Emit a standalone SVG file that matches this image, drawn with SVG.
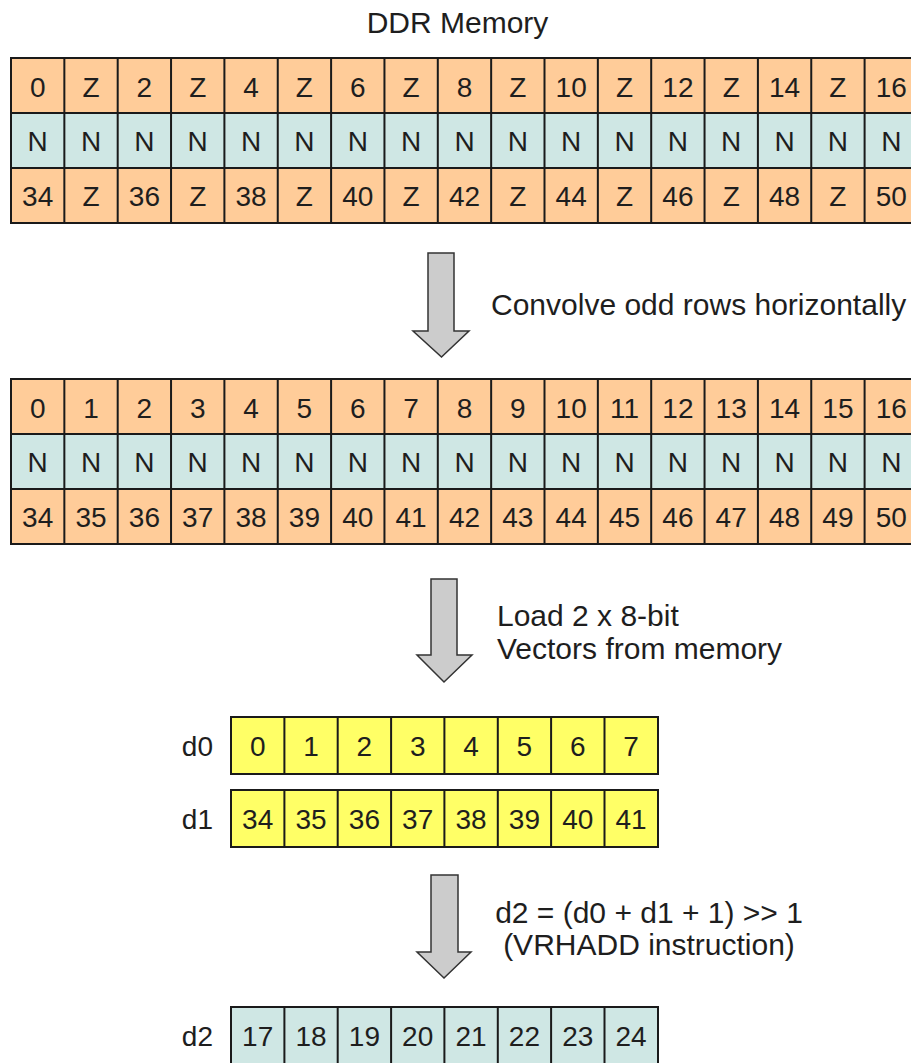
<svg xmlns="http://www.w3.org/2000/svg" width="911" height="1063" viewBox="0 0 911 1063">
  <style>
    text { font-family: "Liberation Sans", Arial, sans-serif; fill: #1e1e1e; }
    .cell { font-size: 28px; text-anchor: middle; }
    .cap { font-size: 30px; }
    .lbl { font-size: 28px; text-anchor: end; }
    .or { fill: #ffcc99; stroke: #1a1a1a; stroke-width: 2; }
    .tl { fill: #cfe7e4; stroke: #1a1a1a; stroke-width: 2; }
    .ye { fill: #ffff66; stroke: #1a1a1a; stroke-width: 2; }
    .div { fill: none; stroke: #1a1a1a; stroke-width: 2; }
    .arrow { fill: #cccccc; stroke: #333333; stroke-width: 1.5; stroke-linejoin: miter; }
  </style>

  <text class="cap" x="457.5" y="33" text-anchor="middle">DDR Memory</text>

  <!-- memory layout before interpolation -->
  <g id="ddr-grid">
    <rect class="or" x="11" y="58" width="907" height="55"/>
    <rect class="tl" x="11" y="113" width="907" height="55"/>
    <rect class="or" x="11" y="168" width="907" height="55"/>
    <path class="div" d="M64.35 58V223M117.7 58V223M171.05 58V223M224.4 58V223M277.75 58V223M331.1 58V223M384.45 58V223M437.8 58V223M491.15 58V223M544.5 58V223M597.85 58V223M651.2 58V223M704.55 58V223M757.9 58V223M811.25 58V223M864.6 58V223"/>
    <g class="cell">
      <text x="37.7" y="97">0</text><text x="91" y="97">Z</text><text x="144.4" y="97">2</text><text x="197.7" y="97">Z</text><text x="251.1" y="97">4</text><text x="304.4" y="97">Z</text><text x="357.8" y="97">6</text><text x="411.1" y="97">Z</text><text x="464.5" y="97">8</text><text x="517.8" y="97">Z</text><text x="571.2" y="97">10</text><text x="624.5" y="97">Z</text><text x="677.9" y="97">12</text><text x="731.2" y="97">Z</text><text x="784.6" y="97">14</text><text x="837.9" y="97">Z</text><text x="891.3" y="97">16</text>
      <text x="37.7" y="151">N</text><text x="91" y="151">N</text><text x="144.4" y="151">N</text><text x="197.7" y="151">N</text><text x="251.1" y="151">N</text><text x="304.4" y="151">N</text><text x="357.8" y="151">N</text><text x="411.1" y="151">N</text><text x="464.5" y="151">N</text><text x="517.8" y="151">N</text><text x="571.2" y="151">N</text><text x="624.5" y="151">N</text><text x="677.9" y="151">N</text><text x="731.2" y="151">N</text><text x="784.6" y="151">N</text><text x="837.9" y="151">N</text><text x="891.3" y="151">N</text>
      <text x="37.7" y="206">34</text><text x="91" y="206">Z</text><text x="144.4" y="206">36</text><text x="197.7" y="206">Z</text><text x="251.1" y="206">38</text><text x="304.4" y="206">Z</text><text x="357.8" y="206">40</text><text x="411.1" y="206">Z</text><text x="464.5" y="206">42</text><text x="517.8" y="206">Z</text><text x="571.2" y="206">44</text><text x="624.5" y="206">Z</text><text x="677.9" y="206">46</text><text x="731.2" y="206">Z</text><text x="784.6" y="206">48</text><text x="837.9" y="206">Z</text><text x="891.3" y="206">50</text>
    </g>
  </g>

  <!-- memory layout after horizontal convolution -->
  <g id="conv-grid">
    <rect class="or" x="11" y="379" width="907" height="55"/>
    <rect class="tl" x="11" y="434" width="907" height="55"/>
    <rect class="or" x="11" y="489" width="907" height="55"/>
    <path class="div" d="M64.35 379V544M117.7 379V544M171.05 379V544M224.4 379V544M277.75 379V544M331.1 379V544M384.45 379V544M437.8 379V544M491.15 379V544M544.5 379V544M597.85 379V544M651.2 379V544M704.55 379V544M757.9 379V544M811.25 379V544M864.6 379V544"/>
    <g class="cell">
      <text x="37.7" y="417.5">0</text><text x="91" y="417.5">1</text><text x="144.4" y="417.5">2</text><text x="197.7" y="417.5">3</text><text x="251.1" y="417.5">4</text><text x="304.4" y="417.5">5</text><text x="357.8" y="417.5">6</text><text x="411.1" y="417.5">7</text><text x="464.5" y="417.5">8</text><text x="517.8" y="417.5">9</text><text x="571.2" y="417.5">10</text><text x="624.5" y="417.5">11</text><text x="677.9" y="417.5">12</text><text x="731.2" y="417.5">13</text><text x="784.6" y="417.5">14</text><text x="837.9" y="417.5">15</text><text x="891.3" y="417.5">16</text>
      <text x="37.7" y="472">N</text><text x="91" y="472">N</text><text x="144.4" y="472">N</text><text x="197.7" y="472">N</text><text x="251.1" y="472">N</text><text x="304.4" y="472">N</text><text x="357.8" y="472">N</text><text x="411.1" y="472">N</text><text x="464.5" y="472">N</text><text x="517.8" y="472">N</text><text x="571.2" y="472">N</text><text x="624.5" y="472">N</text><text x="677.9" y="472">N</text><text x="731.2" y="472">N</text><text x="784.6" y="472">N</text><text x="837.9" y="472">N</text><text x="891.3" y="472">N</text>
      <text x="37.7" y="527">34</text><text x="91" y="527">35</text><text x="144.4" y="527">36</text><text x="197.7" y="527">37</text><text x="251.1" y="527">38</text><text x="304.4" y="527">39</text><text x="357.8" y="527">40</text><text x="411.1" y="527">41</text><text x="464.5" y="527">42</text><text x="517.8" y="527">43</text><text x="571.2" y="527">44</text><text x="624.5" y="527">45</text><text x="677.9" y="527">46</text><text x="731.2" y="527">47</text><text x="784.6" y="527">48</text><text x="837.9" y="527">49</text><text x="891.3" y="527">50</text>
    </g>
  </g>

  <!-- NEON registers -->
  <g id="reg-d0">
    <text class="lbl" x="213" y="756">d0</text>
    <rect class="ye" x="231" y="717" width="427" height="57"/>
    <path class="div" d="M284.4 717V774M337.7 717V774M391.1 717V774M444.4 717V774M497.8 717V774M551.1 717V774M604.5 717V774"/>
    <g class="cell">
      <text x="257.7" y="756">0</text><text x="311" y="756">1</text><text x="364.4" y="756">2</text><text x="417.7" y="756">3</text><text x="471.1" y="756">4</text><text x="524.4" y="756">5</text><text x="577.8" y="756">6</text><text x="631.1" y="756">7</text>
    </g>
  </g>
  <g id="reg-d1">
    <text class="lbl" x="213" y="828.5">d1</text>
    <rect class="ye" x="231" y="790" width="427" height="57"/>
    <path class="div" d="M284.4 790V847M337.7 790V847M391.1 790V847M444.4 790V847M497.8 790V847M551.1 790V847M604.5 790V847"/>
    <g class="cell">
      <text x="257.7" y="828.5">34</text><text x="311" y="828.5">35</text><text x="364.4" y="828.5">36</text><text x="417.7" y="828.5">37</text><text x="471.1" y="828.5">38</text><text x="524.4" y="828.5">39</text><text x="577.8" y="828.5">40</text><text x="631.1" y="828.5">41</text>
    </g>
  </g>
  <g id="reg-d2">
    <text class="lbl" x="213" y="1046">d2</text>
    <rect class="tl" x="231" y="1007" width="427" height="57"/>
    <path class="div" d="M284.4 1007V1064M337.7 1007V1064M391.1 1007V1064M444.4 1007V1064M497.8 1007V1064M551.1 1007V1064M604.5 1007V1064"/>
    <g class="cell">
      <text x="257.7" y="1046">17</text><text x="311" y="1046">18</text><text x="364.4" y="1046">19</text><text x="417.7" y="1046">20</text><text x="471.1" y="1046">21</text><text x="524.4" y="1046">22</text><text x="577.8" y="1046">23</text><text x="631.1" y="1046">24</text>
    </g>
  </g>

  <!-- processing step arrows -->
  <g id="connectors">
    <polygon class="arrow" points="428,253 454,253 454,331 469,331 441.5,357 413,331 428,331"/>
    <polygon class="arrow" points="431,579 457,579 457,655 472,655 444,682 417,655 431,655"/>
    <polygon class="arrow" points="431,875 458,875 458,952 471,952 444,978 417,952 431,952"/>
  </g>

  <g id="step-labels">
    <text class="cap" x="491" y="315">Convolve odd rows horizontally</text>
    <text class="cap" x="497" y="626">Load 2 x 8-bit</text>
    <text class="cap" x="497" y="659">Vectors from memory</text>
    <text class="cap" x="649" y="923" text-anchor="middle">d2 = (d0 + d1 + 1) &gt;&gt; 1</text>
    <text class="cap" x="649" y="955" text-anchor="middle">(VRHADD instruction)</text>
  </g>
</svg>
